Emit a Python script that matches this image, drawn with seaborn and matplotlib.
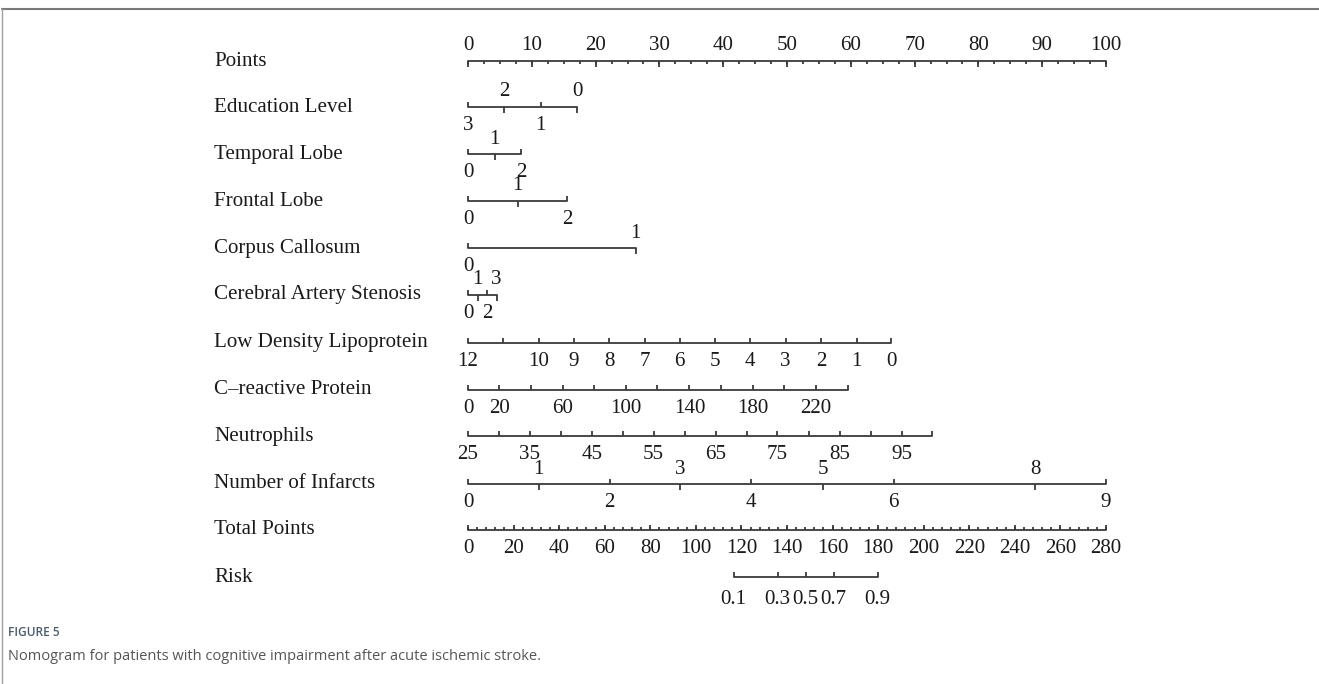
import numpy as np
import pandas as pd
import matplotlib
matplotlib.use("Agg")
import matplotlib.pyplot as plt
import seaborn as sns

# ---------------- data ----------------
row_labels = ["Points", "Education Level", "Temporal Lobe", "Frontal Lobe",
              "Corpus Callosum", "Cerebral Artery Stenosis", "Low Density Lipoprotein",
              "C\u2013reactive Protein", "Neutrophils", "Number of Infarcts",
              "Total Points", "Risk"]

points_ticks = [0, 10, 20, 30, 40, 50, 60, 70, 80, 90, 100]
points_minor = list(np.arange(0, 100.01, 2.5))

edu_values = ["3", "2", "1", "0"]
edu_points = [0, 5.7, 11.4, 17.1]
edu_side = ["below", "above", "below", "above"]

temporal_values = ["0", "1", "2"]
temporal_points = [0, 4.2, 8.3]
temporal_side = ["below", "above", "below"]

frontal_values = ["0", "1", "2"]
frontal_points = [0, 7.8, 15.5]
frontal_side = ["below", "above", "below"]

corpus_values = ["0", "1"]
corpus_points = [0, 26.3]
corpus_side = ["below", "above"]

stenosis_values = ["0", "1", "2", "3"]
stenosis_points = [0, 1.5, 3.0, 4.5]
stenosis_side = ["below", "above", "below", "above"]

ldl_values = ["12", "", "10", "9", "8", "7", "6", "5", "4", "3", "2", "1", "0"]
ldl_points = [0, 5.5, 11.1, 16.6, 22.1, 27.7, 33.2, 38.7, 44.2, 49.8, 55.3, 60.9, 66.3]

crp_values = ["0", "20", "", "60", "", "100", "", "140", "", "180", "", "220", ""]
crp_points = [0, 4.9, 9.9, 14.9, 19.8, 24.8, 29.7, 34.7, 39.6, 44.6, 49.6, 54.5, 59.5]

neut_values = ["25", "", "35", "", "45", "", "55", "", "65", "", "75", "", "85", "", "95", ""]
neut_points = [0, 4.9, 9.7, 14.6, 19.4, 24.3, 29.1, 34.0, 38.8, 43.7, 48.5, 53.4, 58.3, 63.1, 68.0, 72.8]

infarct_values = ["0", "1", "2", "3", "4", "5", "6", "8", "9"]
infarct_points = [0, 11.1, 22.2, 33.3, 44.4, 55.6, 66.7, 88.9, 100]
infarct_side = ["below", "above", "below", "above", "below", "above", "below", "above", "below"]

total_ticks = [0, 20, 40, 60, 80, 100, 120, 140, 160, 180, 200, 220, 240, 260, 280]
total_minor = list(range(0, 281, 4))

risk_values = ["0.1", "0.3", "0.5", "0.7", "0.9"]
risk_total_points = [116.6, 135.9, 148.2, 160.5, 179.8]

caption_head = "FIGURE 5"
caption_text = "Nomogram for patients with cognitive impairment after acute ischemic stroke."

# ---------------- layout ----------------
W, H = 1319, 684
PX_PER_PT = 6.38
X0 = 468
row_y = [61, 107, 154, 201, 248, 295, 343, 390, 436, 484, 530, 577]
TOTAL_MAX = 280.0

sns.set_theme(style="white")
plt.rcParams["font.family"] = ["Liberation Serif", "DejaVu Serif"]

fig = plt.figure(figsize=(W / 100, H / 100), dpi=100)
ax = fig.add_axes([0, 0, 1, 1])

LC = "#3a3a3a"
TC = "#1a1a1a"
FS = 15.1
MAJ = 5.5
MIN = 3.0

# scale lines via seaborn
rows = []
def add_line(i, x0, x1):
    rows.append({"row": i, "x": x0, "y": row_y[i]})
    rows.append({"row": i, "x": x1, "y": row_y[i]})

tot2pts = lambda t: t * 100.0 / TOTAL_MAX

scales = [
    (1, edu_values, edu_points, edu_side),
    (2, temporal_values, temporal_points, temporal_side),
    (3, frontal_values, frontal_points, frontal_side),
    (4, corpus_values, corpus_points, corpus_side),
    (5, stenosis_values, stenosis_points, stenosis_side),
    (6, ldl_values, ldl_points, ["below"] * len(ldl_points)),
    (7, crp_values, crp_points, ["below"] * len(crp_points)),
    (8, neut_values, neut_points, ["below"] * len(neut_points)),
    (9, infarct_values, infarct_points, infarct_side),
]

add_line(0, points_ticks[0], points_ticks[-1])
for i, vals, pts, sides in scales:
    add_line(i, min(pts), max(pts))
add_line(10, tot2pts(total_ticks[0]), tot2pts(total_ticks[-1]))
rp = [tot2pts(t) for t in risk_total_points]
add_line(11, rp[0], rp[-1])

df = pd.DataFrame(rows)
sns.lineplot(data=df, x="x", y="y", units="row", estimator=None, color=LC,
             lw=1.3, ax=ax, legend=False, sort=False)
ax.set_xlim(-X0 / PX_PER_PT, (W - X0) / PX_PER_PT)
ax.set_ylim(H, 0)
ax.axis("off")

def tick(x, y, up, length):
    if up:
        ax.plot([x, x], [y, y - length], color=LC, lw=1.3, solid_capstyle="butt")
    else:
        ax.plot([x, x], [y, y + length], color=LC, lw=1.3, solid_capstyle="butt")

ABOVE = 15
BELOW = 18.5

# left labels
for lab, y in zip(row_labels, row_y):
    ax.text(214 / W, y, lab, transform=ax.get_yaxis_transform(), ha="left",
            va="center", fontsize=FS, color=TC)

# Points axis
y = row_y[0]
for m in points_minor:
    tick(m, y, False, MIN)
for t in points_ticks:
    tick(t, y, False, MAJ)
    ax.text(t, y - ABOVE - 1, str(t), ha="center", va="center", fontsize=FS, color=TC)

# variable scales
for i, vals, pts, sides in scales:
    y = row_y[i]
    for v, p, s in zip(vals, pts, sides):
        if s == "above":
            tick(p, y, False, MAJ)
            if v:
                ax.text(p, y - ABOVE, v, ha="center", va="center", fontsize=FS, color=TC)
        else:
            tick(p, y, True, MAJ)
            if v:
                ax.text(p, y + BELOW, v, ha="center", va="center", fontsize=FS, color=TC)

# Total points
y = row_y[10]
for m in total_minor:
    tick(tot2pts(m), y, True, MIN)
for t in total_ticks:
    tick(tot2pts(t), y, True, MAJ)
    ax.text(tot2pts(t), y + BELOW, str(t), ha="center", va="center", fontsize=FS, color=TC)

# Risk
y = row_y[11]
for v, p in zip(risk_values, rp):
    tick(p, y, True, MAJ)
    ax.text(p, y + 22, v, ha="center", va="center", fontsize=FS, color=TC)

# frame (article figure box)
fig.add_artist(plt.Line2D([2 / W, 1], [1 - 9 / H, 1 - 9 / H], color="#7a7a7a", lw=1.5,
                          transform=fig.transFigure))
fig.add_artist(plt.Line2D([2 / W, 2 / W], [0, 1 - 9 / H], color="#a0a0a0", lw=1.0,
                          transform=fig.transFigure))

# caption
fig.text(8 / W, 1 - 632 / H, caption_head, ha="left", va="center", fontsize=8.6,
         color="#4a5a6a", family=["Open Sans", "DejaVu Sans"], fontweight="semibold")
fig.text(8 / W, 1 - 657 / H, caption_text, ha="left", va="center", fontsize=10.5,
         color="#555555", family=["Open Sans", "DejaVu Sans"])

fig.savefig("out.png", dpi=100)
